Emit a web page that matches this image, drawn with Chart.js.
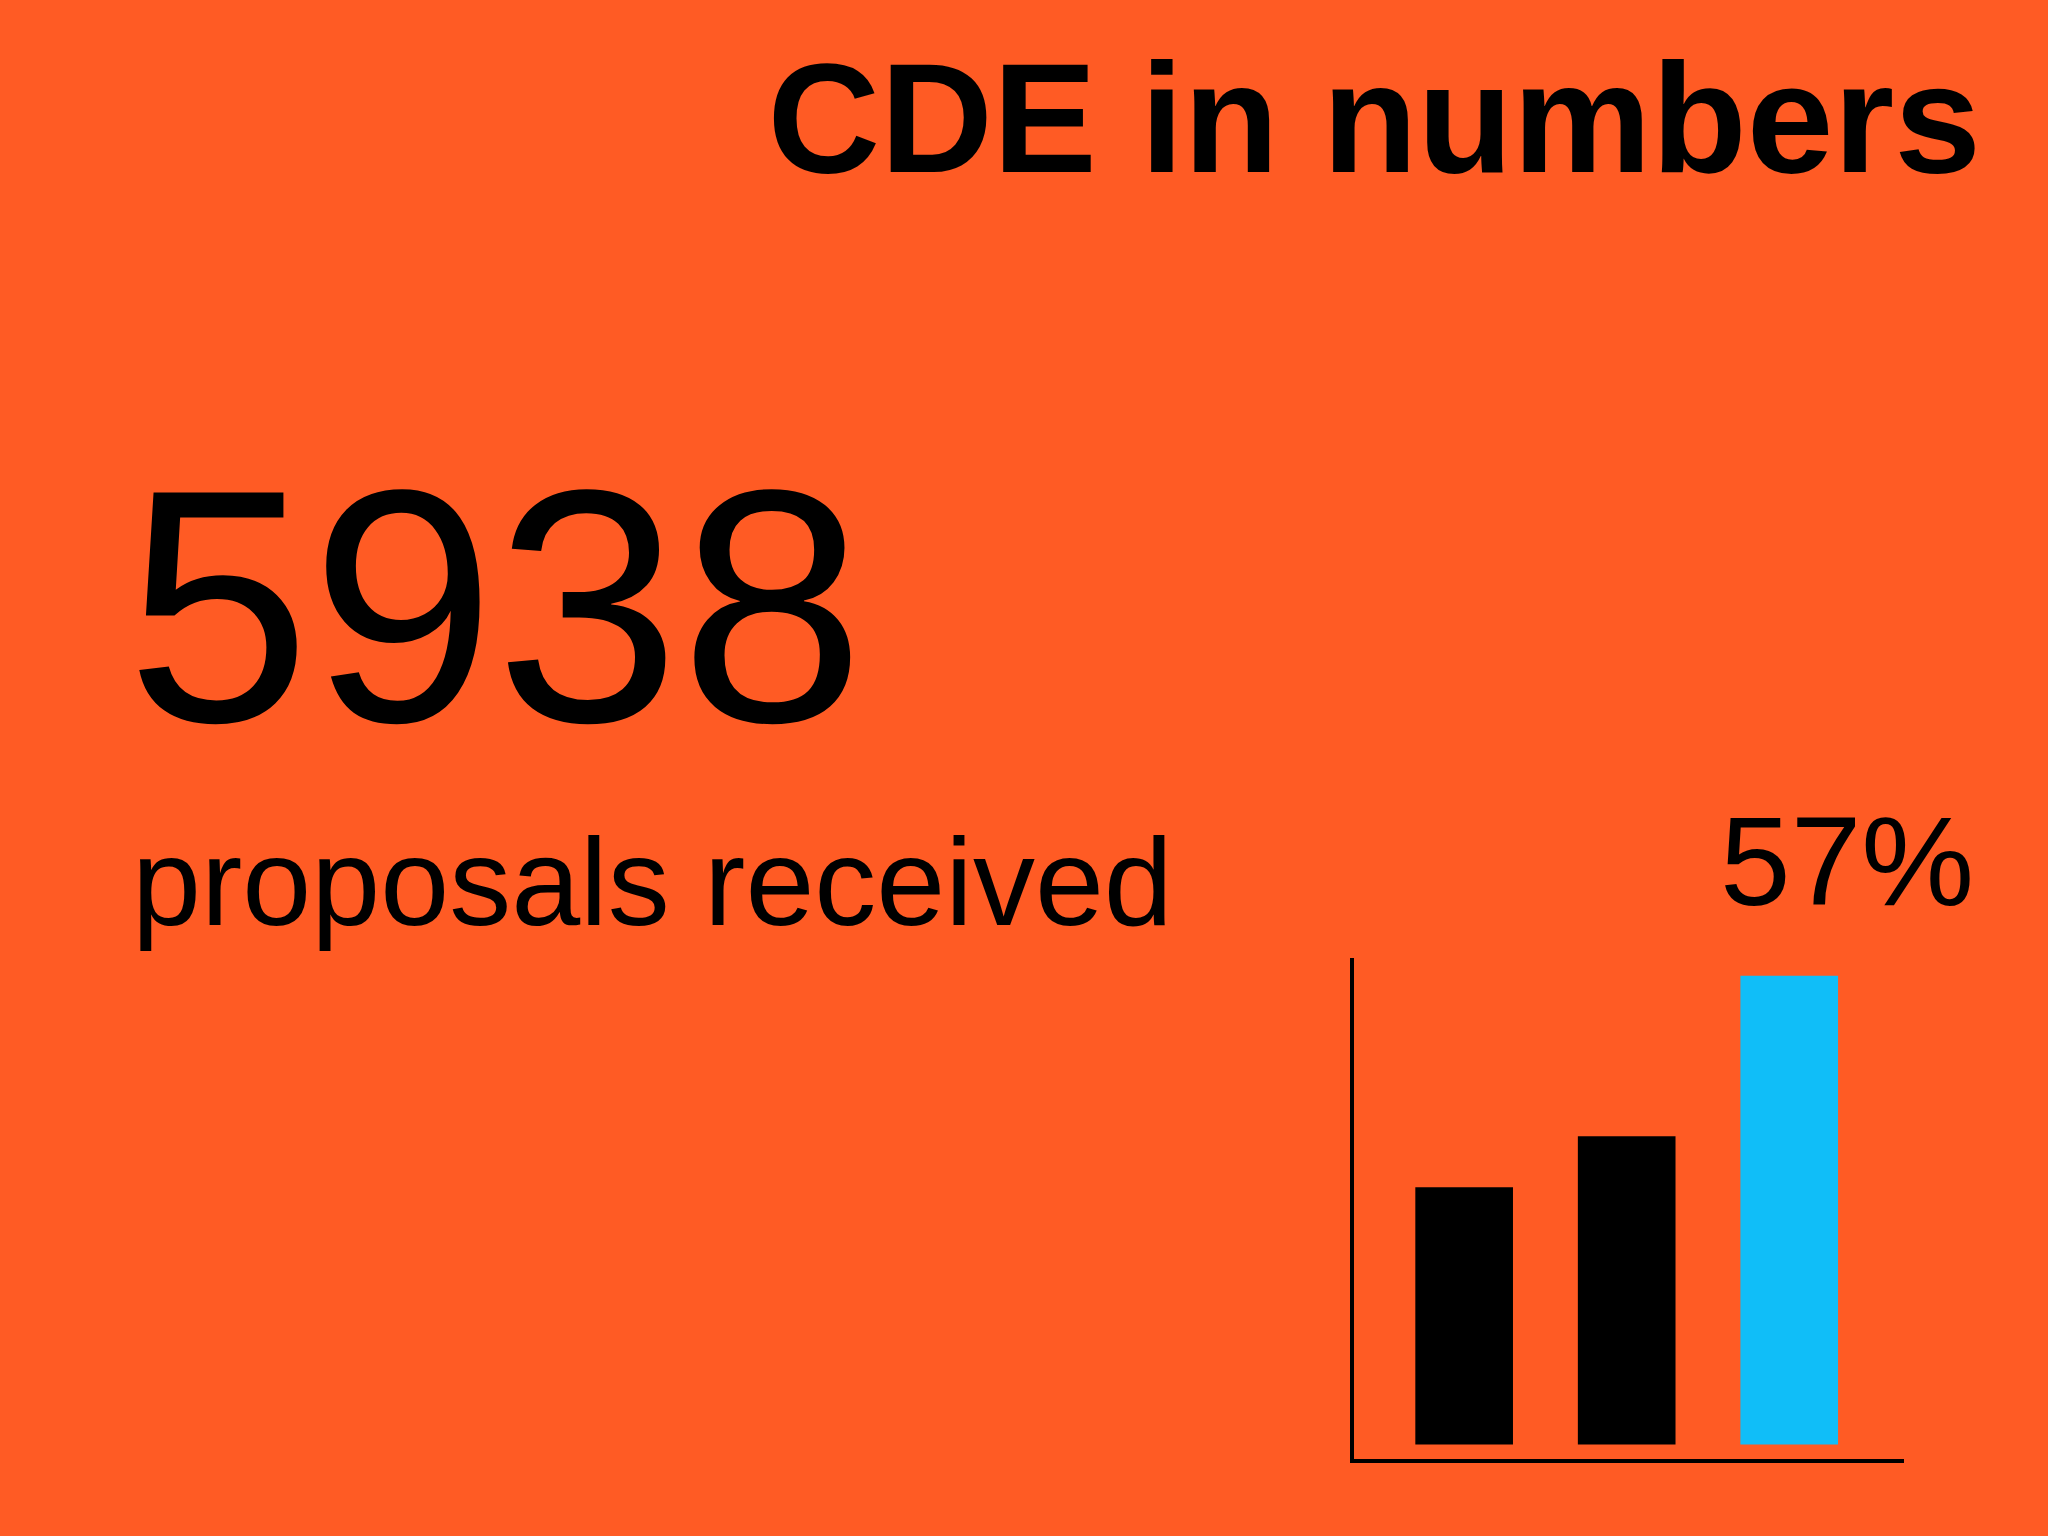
<!DOCTYPE html>
<html>
<head>
<meta charset="utf-8">
<script src="https://cdn.jsdelivr.net/npm/chart.js@4/dist/chart.umd.min.js"></script>
<style>
  html, body { margin: 0; padding: 0; }
  body { width: 2048px; height: 1536px; background: #ff5b24; position: relative; overflow: hidden;
         font-family: 'Liberation Sans', Arial, sans-serif; color: #000; }
  .t { position: absolute; white-space: nowrap; line-height: 1; }
  #title { right: 67px; top: 40px; font-size: 156px; font-weight: bold; }
  #big { left: 126px; top: 440px; font-size: 332px; }
  #sub { left: 132px; top: 820px; font-size: 124px; }
  #pct { left: 1720px; top: 798px; font-size: 127px; }
  #wrap { position: absolute; left: 0; top: 0; width: 2048px; height: 1536px; }
</style>
</head>
<body>
<div class="t" id="title">CDE in numbers</div>
<div class="t" id="big">5938</div>
<div class="t" id="sub">proposals received</div>
<div class="t" id="pct">57%</div>
<div id="wrap"><canvas id="c"></canvas></div>
<script>
  var positions = [1, 2, 3];
  var values = [53, 63.5, 96.7];
  var colors = ['#000000', '#000000', '#10bef8'];

  var points = positions.map(function (p, i) { return { x: p, y: [0, values[i]] }; });

  new Chart(document.getElementById('c'), {
    type: 'bar',
    data: {
      datasets: [{
        data: points,
        backgroundColor: colors,
        barThickness: 97,
        borderWidth: 0
      }]
    },
    options: {
      responsive: true,
      maintainAspectRatio: false,
      animation: false,
      devicePixelRatio: 1,
      layout: { padding: { left: 1352, top: 960, right: 145, bottom: 75 } },
      plugins: { legend: { display: false }, tooltip: { enabled: false } },
      scales: {
        x: {
          type: 'linear', min: 0.31, max: 3.7, offset: false,
          grid: { display: false, drawTicks: false },
          ticks: { display: false },
          border: { display: true, color: '#000', width: 4 }
        },
        y: {
          min: -3.5, max: 100,
          grid: { display: false, drawTicks: false },
          ticks: { display: false },
          border: { display: true, color: '#000', width: 4 }
        }
      }
    }
  });
</script>
</body>
</html>
